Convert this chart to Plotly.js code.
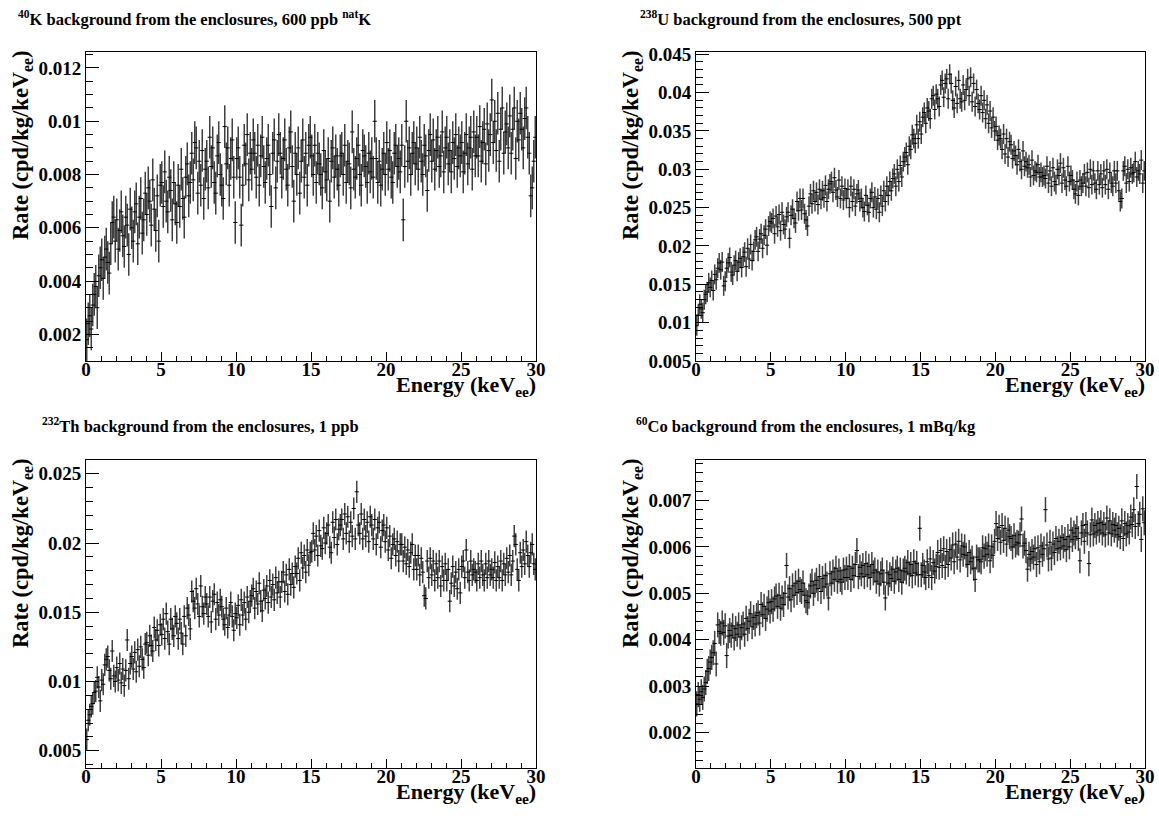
<!DOCTYPE html>
<html>
<head>
<meta charset="utf-8">
<script src="https://cdn.plot.ly/plotly-3.0.1.min.js"></script>
<style>html,body{margin:0;padding:0;background:#fff;}#chart{width:1159px;height:816px;}</style>
</head>
<body>
<div id="chart"></div>
<script>
// ---------------- DATA ----------------
// Histogram binning: 0-30 keVee, 0.1 keV bins
const energyMin = 0, energyMax = 30, binWidth = 0.1;

// 40K rate, units of 1e-4 cpd/kg/keVee
const k40Rate = [
18,24,27,22,31,35,38,30,42,45,
48,41,49,52,47,43,54,62,64,55,
63,52,59,66,57,53,64,61,50,67,
60,55,66,69,54,64,71,58,63,73,
65,75,70,61,78,67,59,72,55,76,
77,68,81,70,66,79,74,63,77,69,
62,76,68,82,71,64,79,84,72,77,
88,78,92,90,73,85,76,89,71,82,
85,75,94,83,90,77,73,87,92,80,
76,71,98,84,90,76,86,93,79,62,
86,90,79,61,76,91,84,95,78,88,
82,93,88,79,91,76,87,94,83,77,
86,91,80,68,88,93,75,85,95,88,
79,86,93,82,76,90,96,83,70,88,
80,90,73,85,93,79,88,76,91,94,
87,80,91,77,88,84,80,75,89,81,
78,86,70,85,90,79,87,82,76,87,
88,80,91,77,85,84,75,96,82,79,
86,91,80,76,89,87,83,77,88,81,
86,79,100,86,77,85,76,82,88,80,
92,82,89,79,77,88,91,83,86,81,
91,63,83,100,85,90,80,88,92,84,
90,82,94,85,80,91,87,74,89,95,
85,93,82,89,94,83,87,96,81,90,
94,84,89,81,92,86,95,83,90,87,
92,81,88,95,84,90,94,82,96,87,
94,87,98,85,92,97,84,99,89,95,
108,92,100,89,103,85,97,105,88,96,
99,90,102,88,97,105,86,100,93,103,
97,90,101,105,94,88,72,75,85,94
];
const k40Unit = 1e-4;
const k40Err = 0.0008;

// 238U rate, units of 1e-4 cpd/kg/keVee
const u238Rate = [
96,110,124,118,113,130,137,140,152,146,
155,142,163,156,171,178,169,179,148,154,
171,178,185,166,162,175,181,167,179,184,
172,186,192,173,197,183,202,181,193,208,
212,193,209,216,197,214,222,201,226,232,
230,236,216,239,225,241,220,244,228,222,
238,244,210,240,248,236,230,258,246,262,
247,262,242,234,226,252,268,255,272,258,
270,254,274,261,272,263,279,258,274,281,
284,270,289,273,264,286,262,278,260,275,
262,274,250,278,258,274,252,268,273,258,
262,250,245,266,253,244,262,270,250,264,
248,262,244,266,252,272,258,278,266,284,
272,288,294,278,300,284,305,290,310,316,
322,306,330,326,345,340,334,358,340,362,
346,368,374,360,380,376,366,392,396,378,
398,392,382,410,416,394,412,418,392,424,
412,390,380,408,386,416,392,388,410,390,
404,418,396,420,388,412,382,404,386,378,
396,374,390,366,384,360,376,354,368,350,
356,338,344,340,326,346,320,340,316,336,
332,314,324,318,306,326,310,300,324,304,
310,302,306,290,312,292,298,296,306,290,
296,290,292,288,304,282,298,278,302,284,
280,300,292,308,282,302,286,278,304,284,
292,286,274,268,284,266,286,278,282,294,
278,296,276,300,280,298,282,274,298,280,
294,276,298,280,300,274,296,282,278,298,
282,298,272,258,262,298,304,282,300,284,
302,294,296,310,290,298,294,312,282,298
];
const u238Unit = 1e-4;
const u238Err = 0.0013;

// 232Th rate, units of 1e-4 cpd/kg/keVee
const th232Rate = [
58,72,76,82,84,92,93,103,96,86,
101,98,112,116,118,108,102,122,104,100,
110,101,113,99,109,97,108,130,102,113,
118,109,121,107,123,111,125,116,110,127,
128,119,133,126,122,139,130,137,126,141,
134,145,131,149,136,127,145,138,133,147,
142,131,145,135,127,147,133,153,148,138,
165,158,153,167,156,147,169,154,149,161,
156,147,161,143,158,163,145,157,148,159,
154,145,141,153,139,148,157,147,137,149,
146,155,141,159,148,157,145,161,150,158,
162,167,153,165,156,171,158,151,166,160,
169,157,173,161,170,159,175,164,172,161,
172,179,165,177,163,181,170,178,168,183,
178,189,173,193,182,191,179,195,184,193,
194,207,195,205,191,209,198,196,211,200,
207,213,197,193,215,204,217,199,210,213,
217,203,221,207,219,201,215,205,225,203,
237,213,207,221,203,217,205,215,201,219,
213,203,217,199,211,215,197,209,213,201,
211,195,205,189,199,203,191,201,187,199,
199,187,197,185,195,183,193,199,181,191,
181,191,177,189,179,162,160,187,175,189,
177,187,173,185,175,187,169,183,173,185,
173,181,158,171,183,169,179,167,181,164,
183,187,175,195,179,173,187,177,181,179,
173,185,175,187,177,173,185,175,187,177,
181,175,186,173,183,175,187,173,185,177,
189,179,191,177,187,205,199,181,173,193,
183,195,185,201,191,183,193,199,185,181
];
const th232Unit = 1e-4;
const th232Err = 0.0008;

// 60Co rate, units of 1e-5 cpd/kg/keVee
const co60Rate = [
262,282,272,288,276,294,308,332,338,352,
362,372,392,348,432,418,414,436,416,430,
366,408,420,410,430,404,424,412,432,406,
426,434,412,446,424,440,456,428,448,434,
452,458,436,476,454,472,446,466,480,462,
482,466,488,494,472,496,468,490,476,500,
560,492,510,486,516,496,522,502,526,508,
504,522,496,484,480,494,516,526,500,518,
528,510,536,504,532,514,538,520,490,542,
522,546,530,554,526,548,530,524,550,534,
552,534,558,530,554,538,562,592,536,556,
542,560,536,564,540,558,534,562,544,550,
526,546,520,542,550,524,490,544,522,540,
532,552,526,546,554,530,550,524,548,554,
546,566,542,562,538,568,544,564,540,640,
540,560,546,534,568,538,574,534,566,548,
558,588,556,592,560,596,556,590,562,594,
576,604,568,606,578,612,572,602,584,600,
582,562,588,568,576,554,530,578,572,572,
568,598,580,596,584,602,570,600,582,612,
650,618,642,610,646,614,640,606,636,622,
618,600,624,604,610,608,626,660,602,608,
592,552,584,574,590,578,596,562,598,568,
602,584,596,680,604,574,610,576,606,588,
618,596,612,598,620,602,616,594,622,600,
636,616,630,622,640,618,570,630,646,612,
648,630,564,626,658,628,646,632,650,636,
652,630,648,626,662,630,656,628,648,636,
646,626,640,622,656,618,650,628,646,632,
664,648,680,644,730,650,670,616,682,652
];
const co60Unit = 1e-5;
const co60Err = 0.00027;

const panelTitles = [
  "<sup>40</sup>K background from the enclosures, 600 ppb <sup>nat</sup>K",
  "<sup>238</sup>U background from the enclosures, 500 ppt",
  "<sup>232</sup>Th background from the enclosures, 1 ppb",
  "<sup>60</sup>Co background from the enclosures, 1 mBq/kg"
];
const xTitle = "Energy (keV<sub>ee</sub>)";
const yTitle = "Rate (cpd/kg/keV<sub>ee</sub>)";

// ---------------- LAYOUT ----------------
const W = 1159, H = 816;
const fx = p => p / W;
const fy = p => 1 - p / H;
const FONT = "Liberation Serif, Times New Roman, serif";

const panels = [
  {rate: k40Rate, unit: k40Unit, err: k40Err, x0: 86, x1: 536, y0: 52, y1: 361,
   yr: [0.001, 0.0126], dt: 0.002, mdt: 0.0005, title: panelTitles[0], tx: 16, ty: 18},
  {rate: u238Rate, unit: u238Unit, err: u238Err, x0: 696, x1: 1145, y0: 52, y1: 361,
   yr: [0.005, 0.0453], dt: 0.005, mdt: 0.001, title: panelTitles[1], tx: 638, ty: 18},
  {rate: th232Rate, unit: th232Unit, err: th232Err, x0: 86, x1: 536, y0: 460, y1: 768,
   yr: [0.00375, 0.026], dt: 0.005, mdt: 0.001, title: panelTitles[2], tx: 40, ty: 425},
  {rate: co60Rate, unit: co60Unit, err: co60Err, x0: 696, x1: 1145, y0: 460, y1: 768,
   yr: [0.00124, 0.00787], dt: 0.001, mdt: 0.0002, title: panelTitles[3], tx: 634, ty: 425}
];

const nBins = Math.round((energyMax - energyMin) / binWidth);
const centers = [];
for (let i = 0; i < nBins; i++) centers.push(energyMin + (i + 0.5) * binWidth);

const traces = [];
const layout = {
  width: W, height: H,
  margin: {l: 0, r: 0, t: 0, b: 0},
  paper_bgcolor: "#fff", plot_bgcolor: "#fff",
  showlegend: false,
  font: {family: FONT, color: "#000"},
  annotations: []
};

panels.forEach((p, i) => {
  const k = i + 1;
  const xa = k === 1 ? "x" : "x" + k;
  const ya = k === 1 ? "y" : "y" + k;
  traces.push({
    type: "scatter", mode: "markers",
    x: centers, y: p.rate.map(v => v * p.unit),
    xaxis: xa, yaxis: ya,
    marker: {symbol: "line-ew", size: 3, color: "#000", line: {width: 1, color: "#000"}},
    error_y: {type: "constant", value: p.err, thickness: 1.5, width: 0, color: "rgba(30,30,30,0.85)"},
    hoverinfo: "x+y"
  });
  const xKey = k === 1 ? "xaxis" : "xaxis" + k;
  const yKey = k === 1 ? "yaxis" : "yaxis" + k;
  layout[xKey] = {
    domain: [fx(p.x0), fx(p.x1)], anchor: ya,
    range: [energyMin, energyMax], tick0: 0, dtick: 5,
    ticks: "inside", ticklen: 9, tickwidth: 1, tickcolor: "#000",
    minor: {dtick: 1, ticks: "inside", ticklen: 5, tickwidth: 1, tickcolor: "#000"},
    showline: true, linecolor: "#000", linewidth: 1, mirror: true,
    showgrid: false, zeroline: false, ticklabelstandoff: -9,
    tickfont: {family: FONT, size: 19, weight: "bold", color: "#000"}
  };
  layout[yKey] = {
    domain: [fy(p.y1), fy(p.y0)], anchor: xa,
    range: p.yr, tick0: 0, dtick: p.dt,
    ticks: "inside", ticklen: 13, tickwidth: 1, tickcolor: "#000",
    minor: {dtick: p.mdt, ticks: "inside", ticklen: 7, tickwidth: 1, tickcolor: "#000"},
    showline: true, linecolor: "#000", linewidth: 1, mirror: true,
    showgrid: false, zeroline: false,
    tickfont: {family: FONT, size: 19, weight: "bold", color: "#000"}
  };
  // panel title
  layout.annotations.push({
    xref: "paper", yref: "paper", x: fx(p.tx), y: fy(p.ty),
    xanchor: "left", yanchor: "middle", showarrow: false,
    text: p.title, font: {family: FONT, size: 16.5, weight: "bold", color: "#000"}
  });
  // x axis title
  layout.annotations.push({
    xref: "paper", yref: "paper", x: fx(p.x1 + 2), y: fy(p.y1 + 25),
    xanchor: "right", yanchor: "middle", showarrow: false,
    text: xTitle, font: {family: FONT, size: 22, weight: "bold", color: "#000"}
  });
  // y axis title
  layout.annotations.push({
    xref: "paper", yref: "paper", x: fx(p.x0 - 64), y: fy(p.y0 - 4),
    xanchor: "center", yanchor: "top", showarrow: false, textangle: -90,
    text: yTitle, font: {family: FONT, size: 22.5, weight: "bold", color: "#000"}
  });
});

Plotly.newPlot("chart", traces, layout, {staticPlot: true});
</script>
</body>
</html>
